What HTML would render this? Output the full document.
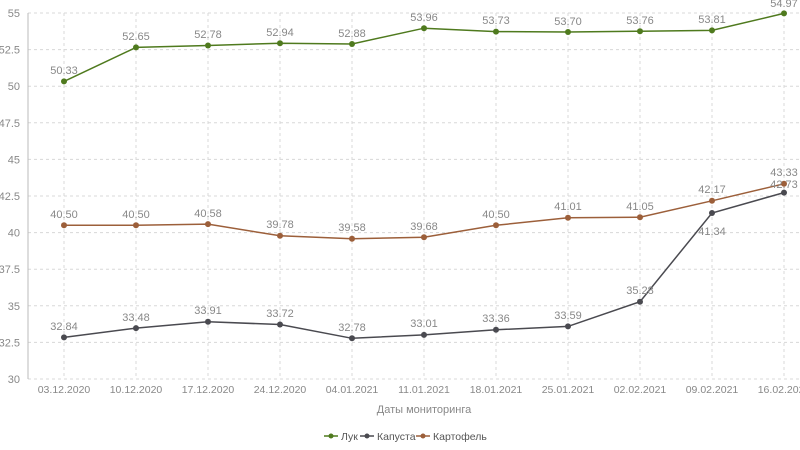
<!DOCTYPE html>
<html><head><meta charset="utf-8"><style>
body{margin:0;background:#fff;}
svg{display:block;font-family:"Liberation Sans",sans-serif;}
</style></head><body>
<svg width="800" height="450" viewBox="0 0 800 450">
<g stroke="#d8d8d8" stroke-dasharray="3,3" stroke-width="1">
<line x1="28" x2="800" y1="13" y2="13"/><line x1="28" x2="800" y1="49.6" y2="49.6"/><line x1="28" x2="800" y1="86.2" y2="86.2"/><line x1="28" x2="800" y1="122.8" y2="122.8"/><line x1="28" x2="800" y1="159.4" y2="159.4"/><line x1="28" x2="800" y1="196" y2="196"/><line x1="28" x2="800" y1="232.6" y2="232.6"/><line x1="28" x2="800" y1="269.2" y2="269.2"/><line x1="28" x2="800" y1="305.8" y2="305.8"/><line x1="28" x2="800" y1="342.4" y2="342.4"/><line x1="28" x2="800" y1="379" y2="379"/>
<line x1="64" x2="64" y1="13" y2="379"/><line x1="136" x2="136" y1="13" y2="379"/><line x1="208" x2="208" y1="13" y2="379"/><line x1="280" x2="280" y1="13" y2="379"/><line x1="352" x2="352" y1="13" y2="379"/><line x1="424" x2="424" y1="13" y2="379"/><line x1="496" x2="496" y1="13" y2="379"/><line x1="568" x2="568" y1="13" y2="379"/><line x1="640" x2="640" y1="13" y2="379"/><line x1="712" x2="712" y1="13" y2="379"/><line x1="784" x2="784" y1="13" y2="379"/>
</g>
<line x1="28" x2="28" y1="13" y2="379" stroke="#bbb"/>
<g fill="#888" font-size="11" text-anchor="end">
<text x="20" y="17">55</text><text x="20" y="53.6">52.5</text><text x="20" y="90.2">50</text><text x="20" y="126.8">47.5</text><text x="20" y="163.4">45</text><text x="20" y="200">42.5</text><text x="20" y="236.6">40</text><text x="20" y="273.2">37.5</text><text x="20" y="309.8">35</text><text x="20" y="346.4">32.5</text><text x="20" y="383">30</text>
</g>
<g fill="#888" font-size="10.5" text-anchor="middle">
<text x="64" y="393">03.12.2020</text><text x="136" y="393">10.12.2020</text><text x="208" y="393">17.12.2020</text><text x="280" y="393">24.12.2020</text><text x="352" y="393">04.01.2021</text><text x="424" y="393">11.01.2021</text><text x="496" y="393">18.01.2021</text><text x="568" y="393">25.01.2021</text><text x="640" y="393">02.02.2021</text><text x="712" y="393">09.02.2021</text><text x="784" y="393">16.02.2021</text>
<text x="424" y="413" font-size="11">Даты мониторинга</text>
</g>
<polyline fill="none" stroke="#4f7a1e" stroke-width="1.5" points="64,81.4 136,47.4 208,45.5 280,43.2 352,44 424,28.2 496,31.6 568,32 640,31.2 712,30.4 784,13.4"/>
<polyline fill="none" stroke="#9c5f3a" stroke-width="1.5" points="64,225.3 136,225.3 208,224.1 280,235.8 352,238.7 424,237.3 496,225.3 568,217.8 640,217.2 712,200.8 784,183.8"/>
<polyline fill="none" stroke="#4a4a50" stroke-width="1.5" points="64,337.4 136,328.1 208,321.8 280,324.5 352,338.3 424,334.9 496,329.8 568,326.4 640,301.7 712,213 784,192.6"/>
<g fill="#4f7a1e"><circle cx="64" cy="81.4" r="3"/><circle cx="136" cy="47.4" r="3"/><circle cx="208" cy="45.5" r="3"/><circle cx="280" cy="43.2" r="3"/><circle cx="352" cy="44" r="3"/><circle cx="424" cy="28.2" r="3"/><circle cx="496" cy="31.6" r="3"/><circle cx="568" cy="32" r="3"/><circle cx="640" cy="31.2" r="3"/><circle cx="712" cy="30.4" r="3"/><circle cx="784" cy="13.4" r="3"/></g>
<g fill="#9c5f3a"><circle cx="64" cy="225.3" r="3"/><circle cx="136" cy="225.3" r="3"/><circle cx="208" cy="224.1" r="3"/><circle cx="280" cy="235.8" r="3"/><circle cx="352" cy="238.7" r="3"/><circle cx="424" cy="237.3" r="3"/><circle cx="496" cy="225.3" r="3"/><circle cx="568" cy="217.8" r="3"/><circle cx="640" cy="217.2" r="3"/><circle cx="712" cy="200.8" r="3"/><circle cx="784" cy="183.8" r="3"/></g>
<g fill="#4a4a50"><circle cx="64" cy="337.4" r="3"/><circle cx="136" cy="328.1" r="3"/><circle cx="208" cy="321.8" r="3"/><circle cx="280" cy="324.5" r="3"/><circle cx="352" cy="338.3" r="3"/><circle cx="424" cy="334.9" r="3"/><circle cx="496" cy="329.8" r="3"/><circle cx="568" cy="326.4" r="3"/><circle cx="640" cy="301.7" r="3"/><circle cx="712" cy="213" r="3"/><circle cx="784" cy="192.6" r="3"/></g>
<g fill="#888" font-size="11" text-anchor="middle">
<text x="64" y="74">50.33</text><text x="136" y="40">52.65</text><text x="208" y="38">52.78</text><text x="280" y="36">52.94</text><text x="352" y="37">52.88</text><text x="424" y="21">53.96</text><text x="496" y="24">53.73</text><text x="568" y="25">53.70</text><text x="640" y="24">53.76</text><text x="712" y="23">53.81</text><text x="784" y="7">54.97</text>
<text x="64" y="218">40.50</text><text x="136" y="218">40.50</text><text x="208" y="217">40.58</text><text x="280" y="228">39.78</text><text x="352" y="231">39.58</text><text x="424" y="230">39.68</text><text x="496" y="218">40.50</text><text x="568" y="210">41.01</text><text x="640" y="210">41.05</text><text x="712" y="193">42.17</text><text x="784" y="176">43.33</text>
<text x="64" y="330">32.84</text><text x="136" y="321">33.48</text><text x="208" y="314">33.91</text><text x="280" y="317">33.72</text><text x="352" y="331">32.78</text><text x="424" y="327">33.01</text><text x="496" y="322">33.36</text><text x="568" y="319">33.59</text><text x="640" y="294">35.28</text><text x="712" y="235">41.34</text><text x="784" y="188">42.73</text>
</g>
<g font-size="10.5" fill="#555">
<line x1="324" x2="338" y1="436" y2="436" stroke="#4f7a1e" stroke-width="1.5"/><circle cx="331" cy="436" r="2.5" fill="#4f7a1e"/><text x="341" y="440">Лук</text>
<line x1="360" x2="374" y1="436" y2="436" stroke="#4a4a50" stroke-width="1.5"/><circle cx="367" cy="436" r="2.5" fill="#4a4a50"/><text x="377" y="440">Капуста</text>
<line x1="416" x2="430" y1="436" y2="436" stroke="#9c5f3a" stroke-width="1.5"/><circle cx="423" cy="436" r="2.5" fill="#9c5f3a"/><text x="433" y="440">Картофель</text>
</g>
</svg>
</body></html>
